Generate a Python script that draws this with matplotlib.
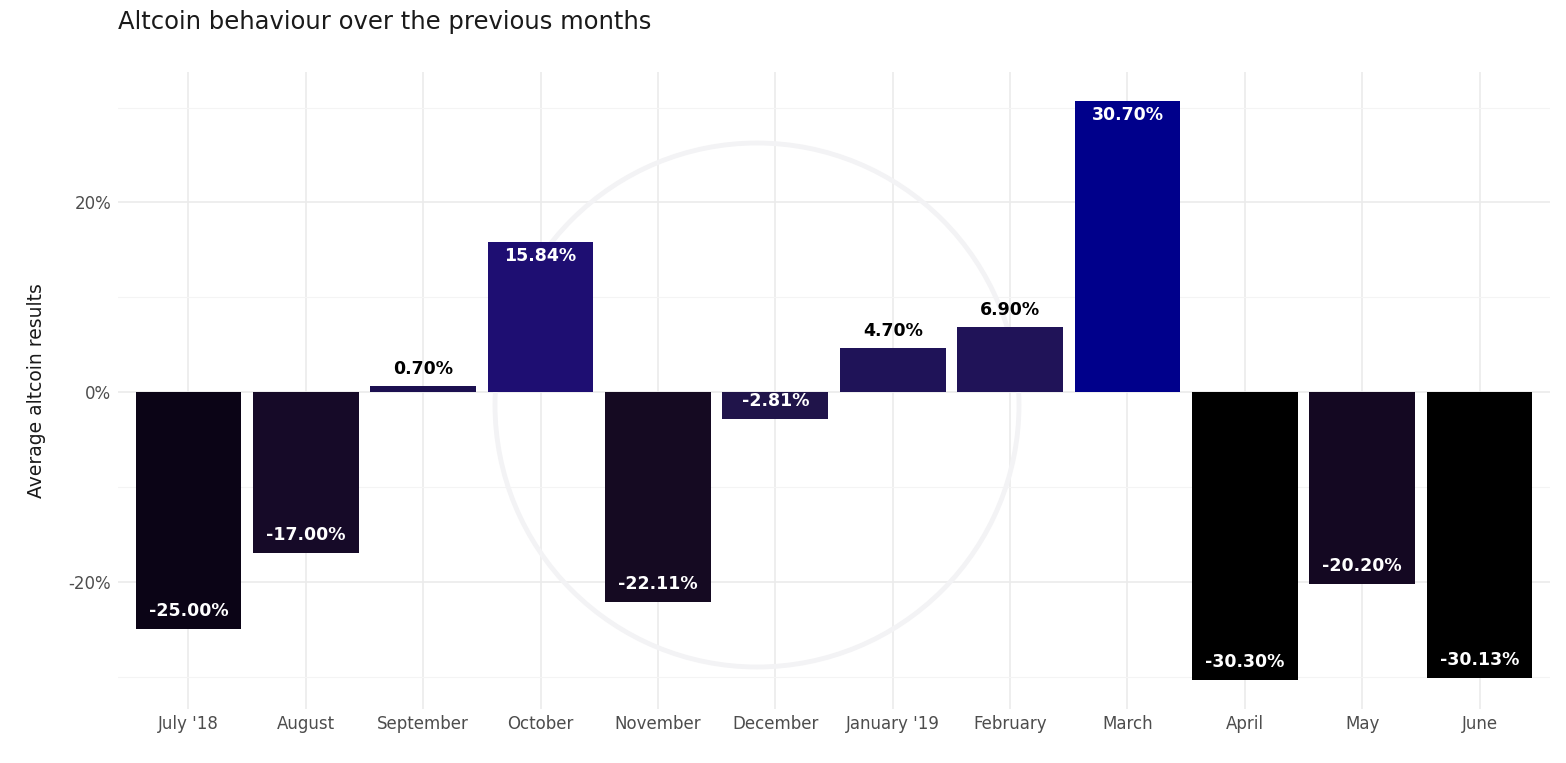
import matplotlib
matplotlib.use("Agg")
import matplotlib.pyplot as plt
from matplotlib.patches import Ellipse
from matplotlib.ticker import FixedLocator

months = ["July '18", "August", "September", "October", "November", "December",
          "January '19", "February", "March", "April", "May", "June"]
values = [-25.00, -17.00, 0.70, 15.84, -22.11, -2.81, 4.70, 6.90, 30.70, -30.30, -20.20, -30.13]
bar_colors = ["#0b0416", "#160a28", "#1c1050", "#1e0e72", "#150a22", "#20144a",
              "#1f1358", "#201358", "#00008b", "#000000", "#140822", "#000000"]

W, H = 1566, 763
fig = plt.figure(figsize=(W / 100, H / 100), dpi=100)
ax = fig.add_axes([118 / W, 1 - 708.5 / H, (1550 - 118) / W, (708.5 - 72) / H])

# faint watermark circle (behind the bars)
ax.add_patch(Ellipse((757 / W, 1 - 405 / H), 524 / W, 524 / H, transform=fig.transFigure,
                     fill=False, edgecolor="#f3f3f5", linewidth=3.5, zorder=1))

x = list(range(len(months)))
ax.bar(x, values, width=0.9, color=bar_colors, zorder=3)

for xi, v in zip(x, values):
    lab = f"{v:.2f}%"
    if v < 0:
        ax.annotate(lab, (xi, v), xytext=(0, 13), textcoords="offset points",
                    ha="center", va="center", color="white", fontsize=12.5,
                    fontweight="bold", zorder=4)
    elif v > 10:
        ax.annotate(lab, (xi, v), xytext=(0, -10), textcoords="offset points",
                    ha="center", va="center", color="white", fontsize=12.5,
                    fontweight="bold", zorder=4)
    else:
        ax.annotate(lab, (xi, v), xytext=(0, 12), textcoords="offset points",
                    ha="center", va="center", color="black", fontsize=12.5,
                    fontweight="bold", zorder=4)

ax.set_xlim(-0.6, len(months) - 0.4)
ax.set_ylim(-33.35, 33.75)
ax.set_xticks(x)
ax.set_xticklabels(months, fontsize=12, color="#4d4d4d")
ax.set_yticks([-20, 0, 20])
ax.set_yticklabels(["-20%", "0%", "20%"], fontsize=12, color="#4d4d4d")
ax.yaxis.set_minor_locator(FixedLocator([-30, -10, 10, 30]))
ax.tick_params(axis="both", which="both", length=0, pad=5)
ax.grid(True, which="major", color="#ebebeb", linewidth=1.2, zorder=0)
ax.grid(True, which="minor", axis="y", color="#f4f4f4", linewidth=0.8, zorder=0)
ax.set_axisbelow(True)
for s in ax.spines.values():
    s.set_visible(False)
ax.patch.set_alpha(0)

ax.set_ylabel("Average altcoin results", fontsize=13.5, color="#1a1a1a", labelpad=16)
fig.text(118 / W, 1 - 22 / H, "Altcoin behaviour over the previous months",
         fontsize=17.5, color="#1a1a1a", ha="left", va="center")

fig.savefig("out.png", dpi=100)
